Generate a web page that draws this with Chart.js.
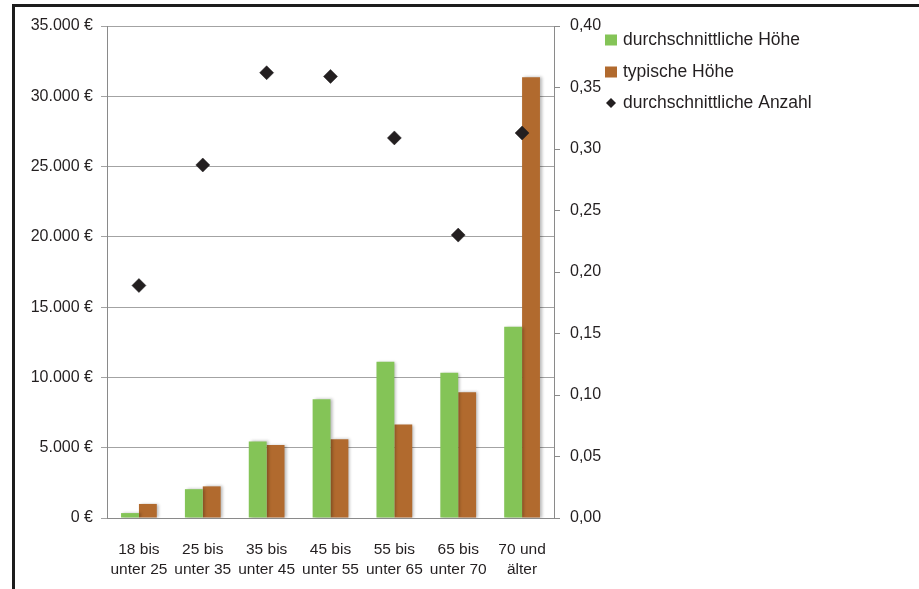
<!DOCTYPE html>
<html>
<head>
<meta charset="utf-8">
<style>
html,body{margin:0;padding:0;background:#fff;}
#wrap{position:relative;width:919px;height:589px;}
</style>
<script src="https://cdn.jsdelivr.net/npm/chart.js@4/dist/chart.umd.min.js"></script>
</head>
<body>
<div id="wrap"><canvas id="c" width="919" height="589"></canvas></div>
<script>
const categories = [["18 bis","unter 25"],["25 bis","unter 35"],["35 bis","unter 45"],["45 bis","unter 55"],["55 bis","unter 65"],["65 bis","unter 70"],["70 und","älter"]];
const durchschnittlicheHoehe = [350, 2050, 5450, 8450, 11120, 10340, 13610];
const typischeHoehe = [1000, 2250, 5200, 5600, 6650, 8950, 31350];
const durchschnittlicheAnzahl = [0.189, 0.287, 0.362, 0.359, 0.309, 0.230, 0.313];
const seriesNames = ["durchschnittliche Höhe", "typische Höhe", "durchschnittliche Anzahl"];
const leftTicksMax = 35000, leftStep = 5000;
const rightTicksMax = 0.40, rightStep = 0.05;

const GREEN = '#84c457';
const BROWN = '#b16a2e';
const DARK = '#231f20';
const FONT = '"Liberation Sans", Arial, sans-serif';

const framePlugin = {
  id: 'frame',
  beforeDraw(chart) {
    const ctx = chart.ctx;
    ctx.save();
    ctx.fillStyle = '#1c1c1c';
    ctx.fillRect(12, 4, 907, 3);
    ctx.fillRect(12, 4, 3, 585);
    ctx.restore();
  }
};

const shadowPlugin = {
  id: 'barShadow',
  beforeDatasetDraw(chart, args) {
    const ds = chart.data.datasets[args.index];
    if (ds.type === 'line') return;
    const ctx = chart.ctx;
    ctx.save();
    ctx.shadowColor = 'rgba(0,0,0,0.28)';
    ctx.shadowOffsetX = 2;
    ctx.shadowOffsetY = 0;
    ctx.shadowBlur = 3;
  },
  afterDatasetDraw(chart, args) {
    const ds = chart.data.datasets[args.index];
    if (ds.type === 'line') return;
    chart.ctx.restore();
  }
};

const legendPlugin = {
  id: 'customLegend',
  afterDraw(chart) {
    const ctx = chart.ctx;
    ctx.save();
    ctx.font = '17.5px ' + FONT;
    ctx.textBaseline = 'middle';
    ctx.textAlign = 'left';
    const ys = [40, 72, 103];
    ctx.fillStyle = GREEN;
    ctx.fillRect(605, ys[0] - 5.5, 12, 11);
    ctx.fillStyle = BROWN;
    ctx.fillRect(605, ys[1] - 5.5, 12, 11);
    ctx.fillStyle = DARK;
    ctx.beginPath();
    ctx.moveTo(611, ys[2] - 5);
    ctx.lineTo(616, ys[2]);
    ctx.lineTo(611, ys[2] + 5);
    ctx.lineTo(606, ys[2]);
    ctx.closePath();
    ctx.fill();
    for (let i = 0; i < 3; i++) {
      ctx.fillText(seriesNames[i], 623, ys[i]);
    }
    ctx.restore();
  }
};

new Chart(document.getElementById('c'), {
  type: 'bar',
  data: {
    labels: categories,
    datasets: [
      {
        type: 'line',
        label: seriesNames[2],
        data: durchschnittlicheAnzahl,
        yAxisID: 'y1',
        showLine: false,
        pointStyle: 'rectRot',
        pointRadius: 7,
        pointHoverRadius: 7,
        pointBackgroundColor: DARK,
        pointBorderColor: DARK,
        pointBorderWidth: 0.5,
        order: 0
      },
      {
        label: seriesNames[0],
        data: durchschnittlicheHoehe,
        backgroundColor: GREEN,
        yAxisID: 'y',
        barPercentage: 1,
        categoryPercentage: 0.56,
        order: 1
      },
      {
        label: seriesNames[1],
        data: typischeHoehe,
        backgroundColor: BROWN,
        yAxisID: 'y',
        barPercentage: 1,
        categoryPercentage: 0.56,
        order: 1
      }
    ]
  },
  options: {
    responsive: false,
    animation: false,
    devicePixelRatio: 1,
    layout: { padding: { top: 26, left: 0, right: 0, bottom: 0 } },
    plugins: {
      legend: { display: false },
      tooltip: { enabled: false }
    },
    scales: {
      x: {
        grid: { display: false, drawTicks: false },
        border: { display: true, color: '#8a8a8a', width: 1 },
        ticks: {
          color: DARK,
          font: { family: FONT, size: 15.5, lineHeight: 1.33 },
          padding: 21,
          maxRotation: 0,
          autoSkip: false
        },
        afterFit(scale) { scale.height = 71; }
      },
      y: {
        position: 'left',
        min: 0,
        max: leftTicksMax,
        grid: { color: '#a3a3a3', lineWidth: 1, tickLength: 6, drawTicks: true },
        border: { display: true, color: '#8a8a8a', width: 1 },
        ticks: {
          stepSize: leftStep,
          color: DARK,
          font: { family: FONT, size: 16 },
          padding: 8,
          callback: (v) => v.toLocaleString('de-DE') + ' €'
        },
        afterFit(scale) { scale.width = 107; }
      },
      y1: {
        position: 'right',
        min: 0,
        max: rightTicksMax,
        grid: { drawOnChartArea: false, color: '#8a8a8a', tickLength: 6 },
        border: { display: true, color: '#8a8a8a', width: 1 },
        ticks: {
          stepSize: rightStep,
          color: DARK,
          font: { family: FONT, size: 16 },
          padding: 10,
          callback: (v) => v.toFixed(2).replace('.', ',')
        },
        afterFit(scale) { scale.width = 365; }
      }
    }
  },
  plugins: [framePlugin, shadowPlugin, legendPlugin]
});
</script>
</body>
</html>
